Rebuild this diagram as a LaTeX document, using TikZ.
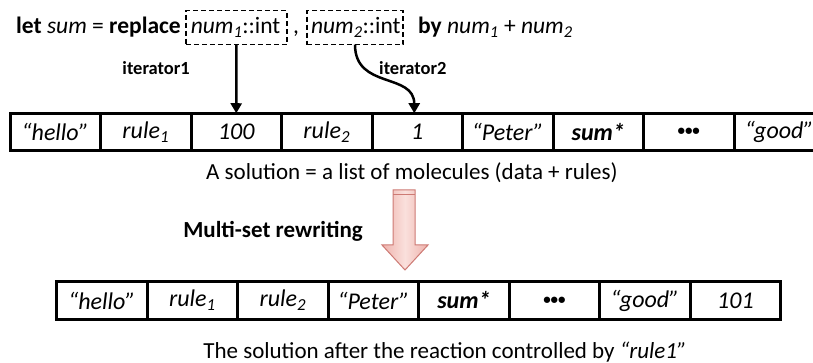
\documentclass[tikz,border=0pt]{standalone}
\usepackage{fontspec}
\setmainfont{Carlito}
\usetikzlibrary{arrows.meta,positioning}

\definecolor{arrowedge}{RGB}{205,122,116}
\definecolor{arrowfill}{RGB}{238,178,172}
\definecolor{arrowlight}{RGB}{250,224,220}

\begin{document}
\begin{tikzpicture}[
  x=1pt,y=-1pt,
  node distance=0pt,
  cell/.style={draw,line width=3pt,outer sep=0pt,minimum height=37.5pt,
               minimum width=90.5pt,inner sep=0pt,font=\fontsize{24}{28}\selectfont},
  slot/.style={draw,dashed,dash pattern=on 5pt off 3pt,line width=1.6pt,
               outer sep=0pt,minimum height=34pt,text width=88pt,align=left,
               inner xsep=6pt,font=\fontsize{23.5}{27}\selectfont},
  code/.style={inner sep=0pt,font=\fontsize{23.5}{27}\selectfont},
  tag/.style={inner sep=0pt,font=\bfseries\fontsize{18.5}{22}\selectfont},
  note/.style={inner sep=0pt,font=\fontsize{23}{27}\selectfont},
  dots/.style={font=\bfseries\fontsize{15}{18}\selectfont},
  pick/.style={-{Triangle[length=10pt,width=11pt]},line width=2.5pt}
]
\clip (0,0) rectangle (813,363);

% the rule
\node[slot,text width=91pt,inner xsep=5pt] (num1) at (236.3,27.6) {\itshape num\textsubscript{1}\upshape::int};
\node[slot,inner xsep=4pt] (num2) at (355,27.6) {\itshape num\textsubscript{2}\upshape::int};
\node[code,anchor=base east] (let) at (181,34) {\textbf{let} \textit{sum} = \textbf{replace}};
\node[code,anchor=base] (comma) at (296,34) {,};
\node[code,anchor=base west] (by) at (418,34)
  {\textbf{by} \textit{num\textsubscript{1}} + \textit{num\textsubscript{2}}};
\node[tag,anchor=base east] (iter1) at (190,75) {iterator1};
\node[tag,anchor=base west] (iter2) at (379,75) {iterator2};

% solution before
\node[cell,anchor=west] (a1) at (10,132) {\itshape “hello”};
\node[cell,right=of a1] (a2) {\itshape rule\textsubscript{1}};
\node[cell,right=of a2] (a3) {\itshape 100};
\node[cell,right=of a3] (a4) {\itshape rule\textsubscript{2}};
\node[cell,right=of a4] (a5) {\itshape 1};
\node[cell,right=of a5] (a6) {\itshape “Peter”};
\node[cell,right=of a6] (a7) {\bfseries\itshape sum*};
\node[cell,dots,right=of a7] (a8) {•••};
\node[cell,right=of a8] (a9) {\itshape “good”};
\node[note,anchor=base] (before) at (412,180) {A solution = a list of molecules (data + rules)};

\draw[pick] (num1.south) -- (a3.north);
\draw[pick] (num2.south) .. controls +(0,45) and +(0,-41) .. ([xshift=-3pt]a5.north);

% rewriting step
\node[tag,font=\bfseries\fontsize{23}{27}\selectfont,anchor=base east] (rewrite) at (363,237) {Multi-set rewriting};
\shadedraw[left color=arrowfill,right color=arrowfill,middle color=arrowlight,
           draw=arrowedge,line width=1pt]
  (393,190) -- (415,190) -- (415,245) -- (428,245) -- (405,270)
  -- (382,245) -- (393,245) -- cycle;
\draw[arrowedge,line width=1.5pt] (393,194.5) -- (415,194.5);

% solution after
\node[cell,anchor=west] (b1) at (56.7,300.5) {\itshape “hello”};
\node[cell,right=of b1] (b2) {\itshape rule\textsubscript{1}};
\node[cell,right=of b2] (b3) {\itshape rule\textsubscript{2}};
\node[cell,right=of b3] (b4) {\itshape “Peter”};
\node[cell,right=of b4] (b5) {\bfseries\itshape sum*};
\node[cell,dots,right=of b5] (b6) {•••};
\node[cell,right=of b6] (b7) {\itshape “good”};
\node[cell,right=of b7] (b8) {\itshape 101};
\node[note,anchor=base] (after) at (445,358)
  {The solution after the reaction controlled by \textit{“rule1”}};
\end{tikzpicture}
\end{document}
